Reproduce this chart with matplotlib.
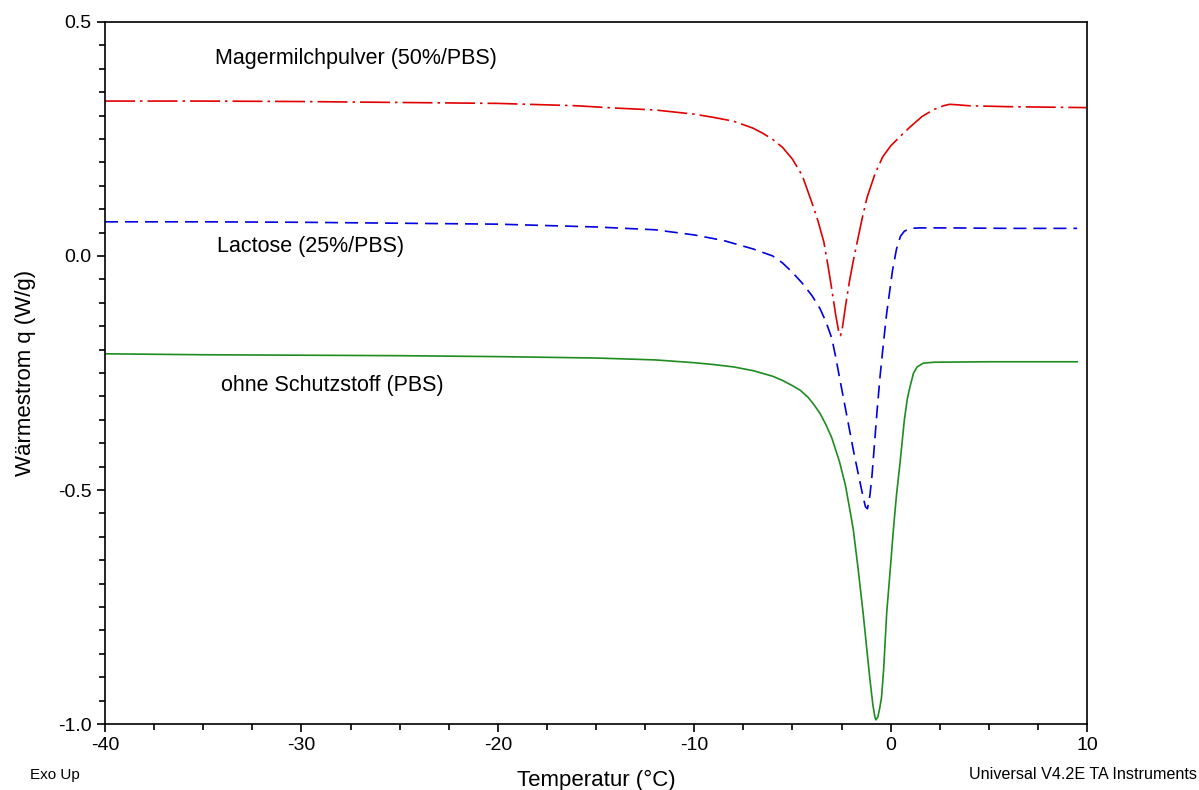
import matplotlib
matplotlib.use('Agg')
import matplotlib.pyplot as plt
from matplotlib.ticker import MultipleLocator

plt.rcParams['font.family'] = ['Liberation Sans', 'DejaVu Sans']
plt.rcParams['axes.unicode_minus'] = False

# Magermilchpulver (50%/PBS)
t_milch = [-40, -35, -30, -25, -20, -16, -14, -12, -10, -9, -8, -7, -6.5, -6, -5.5,
           -5, -4.5, -4, -3.7, -3.4, -3.2, -3.0, -2.8, -2.65, -2.55, -2.45, -2.3,
           -2.1, -1.9, -1.7, -1.45, -1.2, -0.8, -0.4, 0, 0.5, 1.0, 1.6, 2.2, 2.7,
           3.0, 3.4, 4, 6, 8, 10]
q_milch = [0.331, 0.331, 0.330, 0.328, 0.326, 0.321, 0.316, 0.312, 0.303, 0.296,
           0.288, 0.273, 0.262, 0.249, 0.232, 0.207, 0.172, 0.113, 0.075, 0.030,
           -0.018, -0.070, -0.125, -0.160, -0.170, -0.152, -0.108, -0.055, -0.010,
           0.030, 0.080, 0.125, 0.175, 0.212, 0.235, 0.256, 0.276, 0.298, 0.313,
           0.321, 0.324, 0.323, 0.321, 0.319, 0.318, 0.317]

# Lactose (25%/PBS)
t_lact = [-40, -35, -30, -25, -20, -15, -12, -10, -8.5, -7, -6, -5.5, -5, -4.5, -4,
          -3.6, -3.3, -3.0, -2.8, -2.6, -2.35, -2.1, -1.85, -1.6, -1.4, -1.28,
          -1.18, -1.05, -0.95, -0.8, -0.7, -0.54, -0.35, -0.2, 0.1, 0.3, 0.5,
          0.7, 1.0, 1.5, 3, 6, 9.5]
q_lact = [0.073, 0.073, 0.072, 0.070, 0.068, 0.062, 0.056, 0.045, 0.033, 0.015,
          0.000, -0.015, -0.035, -0.058, -0.085, -0.112, -0.140, -0.175, -0.215,
          -0.260, -0.315, -0.370, -0.425, -0.475, -0.515, -0.536, -0.540, -0.510,
          -0.470, -0.390, -0.336, -0.258, -0.180, -0.122, -0.030, 0.015, 0.042,
          0.053, 0.059, 0.060, 0.060, 0.059, 0.059]

# ohne Schutzstoff (PBS)
t_pbs = [-40, -35, -30, -25, -20, -15, -12, -10, -9, -8, -7, -6, -5.5, -5, -4.6,
         -4.2, -3.9, -3.6, -3.3, -3.0, -2.6, -2.3, -2.0, -1.9, -1.65, -1.4, -1.2,
         -1.05, -0.9, -0.8, -0.75, -0.65, -0.55, -0.46, -0.35, -0.2, 0, 0.14,
         0.3, 0.48, 0.7, 0.85, 0.99, 1.16, 1.35, 1.66, 2.2, 5, 9.5]
q_pbs = [-0.209, -0.211, -0.212, -0.213, -0.215, -0.218, -0.222, -0.228, -0.232,
         -0.237, -0.245, -0.257, -0.266, -0.277, -0.287, -0.302, -0.318, -0.336,
         -0.360, -0.388, -0.440, -0.490, -0.560, -0.585, -0.670, -0.763, -0.845,
         -0.906, -0.960, -0.985, -0.991, -0.985, -0.965, -0.942, -0.880, -0.763,
         -0.660, -0.585, -0.510, -0.442, -0.350, -0.305, -0.279, -0.251, -0.237,
         -0.229, -0.227, -0.226, -0.226]

fig = plt.figure(figsize=(11.99, 7.90), dpi=100)
ax = fig.add_axes([0.0876, 0.0835, 0.819, 0.8887])

ax.plot(t_milch, q_milch, color='#e00000', lw=1.2, linestyle=(0, (18, 3, 1.5, 3)))
ax.plot(t_lact, q_lact, color='#0000e0', lw=1.2, linestyle=(0, (7.8, 4.2)))
ax.plot(t_pbs, q_pbs, color='#1e8c1e', lw=1.2)

ax.text(-34.4, 0.421, 'Magermilchpulver (50%/PBS)', fontsize=15.5, va='center')
ax.text(-34.3, 0.021, 'Lactose (25%/PBS)', fontsize=15.5, va='center')
ax.text(-34.1, -0.276, 'ohne Schutzstoff (PBS)', fontsize=15.5, va='center')

ax.set_xlim(-40, 10)
ax.set_ylim(-1.0, 0.5)
ax.xaxis.set_major_locator(MultipleLocator(10))
ax.xaxis.set_minor_locator(MultipleLocator(2.5))
ax.yaxis.set_major_locator(MultipleLocator(0.5))
ax.yaxis.set_minor_locator(MultipleLocator(0.05))
ax.yaxis.set_major_formatter(plt.FuncFormatter(lambda v, p: f'{v:.1f}'))
ax.tick_params(which='both', direction='out', labelsize=14, width=1.2)
ax.tick_params(which='major', length=6)
ax.tick_params(which='minor', length=4)
for s in ax.spines.values():
    s.set_linewidth(1.2)

ax.set_xlabel('Temperatur (°C)', fontsize=16, labelpad=11)
ax.set_ylabel('Wärmestrom q (W/g)', fontsize=16, labelpad=16)

fig.text(0.025, 0.019, 'Exo Up', fontsize=11, va='center')
fig.text(0.808, 0.019, 'Universal V4.2E TA Instruments', fontsize=11.6, va='center')

fig.savefig('out.png', dpi=100)
